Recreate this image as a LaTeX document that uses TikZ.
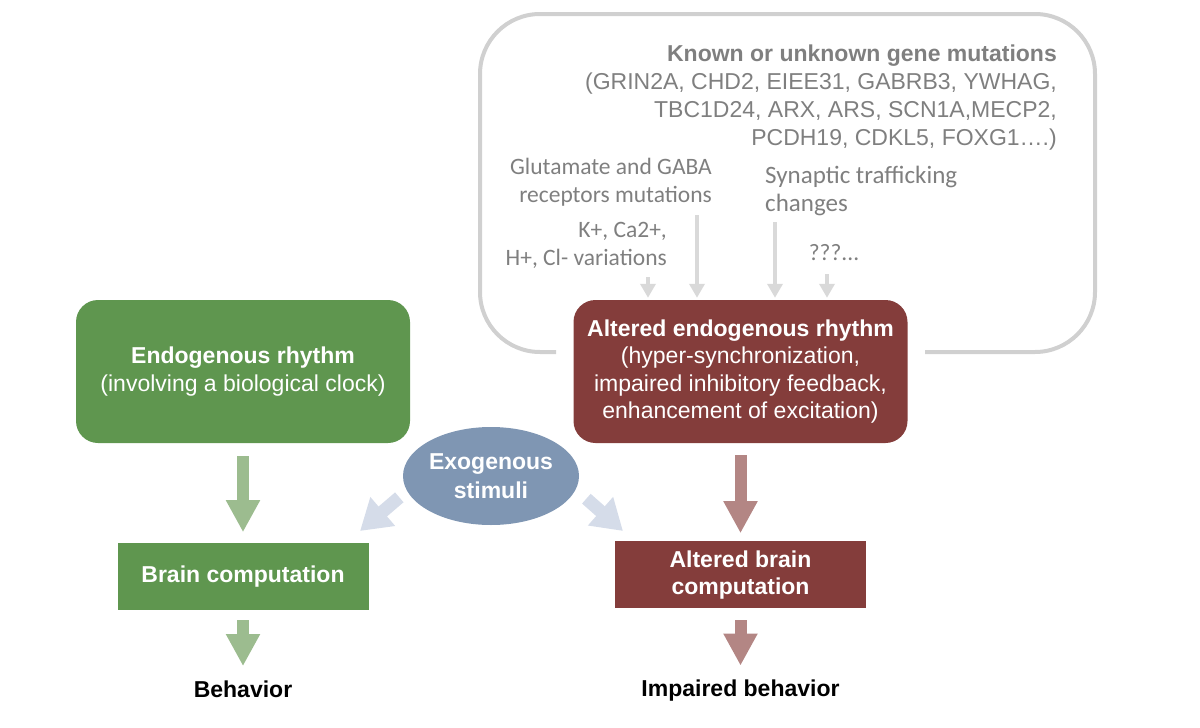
\documentclass[tikz,border=0pt]{standalone}
\usepackage{fontspec}
\setmainfont{Liberation Sans}
\newfontfamily\notefont{Carlito}
\usetikzlibrary{positioning, arrows.meta, shapes.geometric}

\definecolor{rhythmgreen}{HTML}{5F964F}
\definecolor{arrowgreen}{HTML}{9CBC8F}
\definecolor{alteredred}{HTML}{843D3B}
\definecolor{arrowred}{HTML}{B38684}
\definecolor{stimblue}{HTML}{7F96B3}
\definecolor{arrowblue}{HTML}{D5DCE9}
\definecolor{framegray}{HTML}{D0D0D0}
\definecolor{textgray}{HTML}{7F7F7F}
\definecolor{arrowgray}{HTML}{D9D9D9}

\begin{document}
\begin{tikzpicture}[
    x=1pt, y=-1pt,
    node distance=100pt,
    rbox/.style={
        rounded corners=22pt,
        minimum width=334pt,
        minimum height=143pt,
        text=white,
        align=center,
        font=\fontsize{23}{27.5}\selectfont
    },
    cbox/.style={
        minimum width=251pt,
        minimum height=66.5pt,
        text=white,
        align=center,
        font=\fontsize{23}{27}\selectfont\bfseries
    },
    outcome/.style={inner sep=0pt, text height=17pt, text depth=5pt,
        font=\fontsize{23}{27}\selectfont\bfseries},
    note/.style={text=textgray, inner sep=0pt,
        font=\notefont\fontsize{23.5}{27.5}\selectfont},
    fatarrow/.style={line width=12pt, -{Triangle[width=32pt,length=32pt]}},
    sidearrow/.style={arrowblue, line width=13pt, -{Triangle[width=36pt,length=30pt]}},
    thinarrow/.style={arrowgray, line width=4pt, -{Triangle[width=15pt,length=14pt]}}
]
\useasboundingbox (0,0) rectangle (1200,728);

% frame round the causes
\draw[framegray, line width=4pt, rounded corners=60pt]
    (556,352) -| (480,14) -| (1095,352) -- (925,352);

% main boxes
\node[rbox, fill=rhythmgreen] (rhythm) at (243,371.5)
    {\textbf{Endogenous rhythm}\\(involving a biological clock)};
\node[rbox, fill=alteredred] (altrhythm) at (740.5,371.5)
    {\textbf{Altered endogenous rhythm}\\(hyper-synchronization,\\impaired inhibitory feedback,\\enhancement of excitation)};

\node[cbox, fill=rhythmgreen, below=100pt of rhythm] (brain) {Brain computation};
\node[cbox, fill=alteredred, below=98pt of altrhythm] (altbrain) {Altered brain\\computation};

\node[outcome, below=70pt of brain] (behav) {Behavior};
\node[outcome, below=71.5pt of altbrain] (altbehav) {Impaired behavior};

\node[ellipse, fill=stimblue, minimum width=176pt, minimum height=98pt, inner sep=0pt,
    text=white, align=center, font=\fontsize{23}{29}\selectfont\bfseries]
    (stimuli) at (491,476) {Exogenous\\stimuli};

% causes
\node[text=textgray, inner sep=0pt, anchor=north east, align=right,
    font=\fontsize{23}{28}\selectfont] (genes) at (1057,44.5)
    {{\bfseries Known or unknown gene mutations}\\
     (GRIN2A, CHD2, EIEE31, GABRB3, YWHAG,\\
     TBC1D24, ARX, ARS, SCN1A,MECP2,\\
     PCDH19, CDKL5, FOXG1….)};
\node[note, anchor=north east, align=right] (glu) at (712,158)
    {Glutamate and GABA\\receptors mutations};
\node[note, anchor=north east, align=right] (ions) at (667,222.5)
    {K+, Ca2+,\\H+, Cl- variations};
\node[note, anchor=north west, align=left, font=\notefont\fontsize{25}{27.5}\selectfont]
    (syn) at (765,166) {Synaptic trafficking\\changes};
\node[note] (unk) at (834,253) {???...};

\coordinate (iontail) at (648,277);
\coordinate (glutail) at (697,215);
\coordinate (syntail) at (775,222);
\coordinate (unktail) at (827,274);

\draw[thinarrow, shorten >=2pt] (iontail) -- (iontail |- altrhythm.north);
\draw[thinarrow, shorten >=2pt] (glutail) -- (glutail |- altrhythm.north);
\draw[thinarrow, shorten >=2pt] (syntail) -- (syntail |- altrhythm.north);
\draw[thinarrow, shorten >=2pt] (unktail) -- (unktail |- altrhythm.north);

% flow
\draw[fatarrow, arrowgreen, shorten <=13pt, shorten >=11pt] (rhythm.south) -- (brain.north);
\draw[fatarrow, arrowgreen, shorten <=10pt, shorten >=14pt] (brain.south) -- (behav.north);
\draw[fatarrow, arrowred, shorten <=12pt, shorten >=8pt] (altrhythm.south) -- (altbrain.north);
\draw[fatarrow, arrowred, shorten <=12pt, shorten >=14pt] (altbrain.south) -- (altbehav.north);

\coordinate (hitbrain) at (360,531);
\coordinate (hitalt) at (623,531);
\draw[sidearrow, shorten <=10pt] (stimuli.190) -- (hitbrain);
\draw[sidearrow, shorten <=14pt] (stimuli.-9) -- (hitalt);

\end{tikzpicture}
\end{document}
